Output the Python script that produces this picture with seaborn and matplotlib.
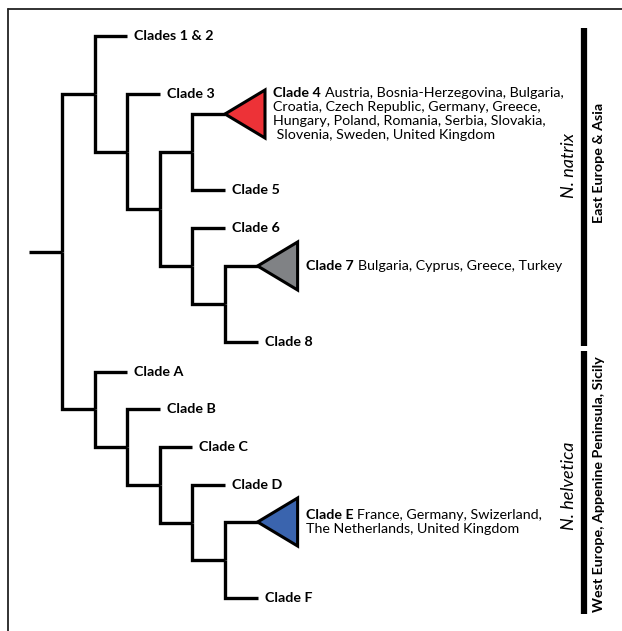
import matplotlib
matplotlib.use("Agg")
import matplotlib.pyplot as plt
import seaborn as sns
import pandas as pd
import numpy as np

# ---- data ----
tip_names = ["Clades 1 & 2", "Clade 3", "Clade 4", "Clade 5", "Clade 6", "Clade 7", "Clade 8",
             "Clade A", "Clade B", "Clade C", "Clade D", "Clade E", "Clade F"]
tip_y = [36, 94, 114, 190, 228, 266, 342, 372, 409, 447, 485, 522, 598]

tree = (("Clades 1 & 2", ("Clade 3", (("Clade 4", "Clade 5"), ("Clade 6", ("Clade 7", "Clade 8"))))),
        ("Clade A", ("Clade B", ("Clade C", ("Clade D", ("Clade E", "Clade F"))))))

collapsed = ["Clade 4", "Clade 7", "Clade E"]
collapsed_colors = ["#ED3237", "#808285", "#3A64AE"]
collapsed_countries = [
    ["Austria, Bosnia-Herzegovina, Bulgaria,",
     "Croatia, Czech Republic, Germany, Greece,",
     "Hungary, Poland, Romania, Serbia, Slovakia,",
     " Slovenia, Sweden, United Kingdom"],
    ["Bulgaria, Cyprus, Greece, Turkey"],
    ["France, Germany, Swizerland,",
     "The Netherlands, United Kingdom"],
]

species = ["N. natrix", "N. helvetica"]
regions = ["East Europe & Asia", "West Europe, Appenine Peninsula, Sicily"]
group_span = [(28, 346), (351, 614)]

# ---- layout ----
sns.set_style("white")
plt.rcParams['font.family'] = ['Lato', 'DejaVu Sans']
plt.rcParams['text.color'] = 'black'

X0, STEP = 62, 32.6
pos_y = dict(zip(tip_names, tip_y))
tip_x = {}
segs = []


def layout(node, depth):
    x = X0 + STEP * depth
    if isinstance(node, str):
        tip_x[node] = x
        return x, pos_y[node]
    kids = [layout(c, depth + 1) for c in node]
    y = np.mean([k[1] for k in kids])
    for cx, cy in kids:
        sid = len(segs)
        segs.extend([(sid, x, y), (sid, x, cy), (sid, cx, cy)])
    return x, y


rx, ry = layout(tree, 0)
segs.extend([(-1, rx - STEP, ry), (-1, rx, ry)])
seg_df = pd.DataFrame(segs, columns=["seg", "x", "y"])

fig = plt.figure(figsize=(6.22, 6.31), dpi=100)
ax = fig.add_axes([0, 0, 1, 1])

sns.lineplot(data=seg_df, x="x", y="y", units="seg", estimator=None, sort=False,
             color="black", lw=2.4, legend=False, ax=ax,
             solid_joinstyle="miter", solid_capstyle="butt")

FS = 10.3
LINE_H = 14
tri_w, tri_h = 40, 24
for name in tip_names:
    x, y = tip_x[name], pos_y[name]
    if name in collapsed:
        i = collapsed.index(name)
        ax.fill([x, x + tri_w, x + tri_w], [y, y - tri_h, y + tri_h],
                facecolor=collapsed_colors[i], edgecolor="black", lw=2.2, joinstyle="miter")
        lines = collapsed_countries[i]
        n = len(lines)
        tx = x + tri_w + 8
        for j, line in enumerate(lines):
            ly = y + (j - (n - 1) / 2) * LINE_H
            if j == 0:
                t = ax.text(tx, ly, name, fontsize=FS, fontweight="bold", va="center", ha="left")
                ax.annotate(line, xy=(1, 0.5), xycoords=t, xytext=(3, 0),
                            textcoords="offset points", fontsize=FS, va="center", ha="left")
            else:
                ax.text(tx, ly, line, fontsize=FS, va="center", ha="left")
    else:
        ax.text(x + 7, y, name, fontsize=FS, fontweight="bold", va="center", ha="left")

# side bars and labels
for k, ((y0, y1), sp, rg) in enumerate(zip(group_span, species, regions)):
    ax.plot([584, 584], [y0, y1], color="black", lw=4.5, solid_capstyle="butt")
    mid = (y0 + y1) / 2
    ax.text(569, mid - 22 if k == 0 else mid + 3, sp, fontsize=13, style="italic",
            rotation=90, ha="center", va="center")
    ax.text(599, mid - 24 if k == 0 else mid + 2, rg, fontsize=FS, fontweight="bold",
            rotation=90, ha="center", va="center")

# frame
ax.plot([8, 622], [9, 9], color="#222222", lw=1.3)
ax.plot([8, 8], [9, 631], color="#222222", lw=1.3)

ax.set_xlim(0, 622)
ax.set_ylim(631, 0)
ax.axis("off")
fig.savefig("out.png", dpi=100)
